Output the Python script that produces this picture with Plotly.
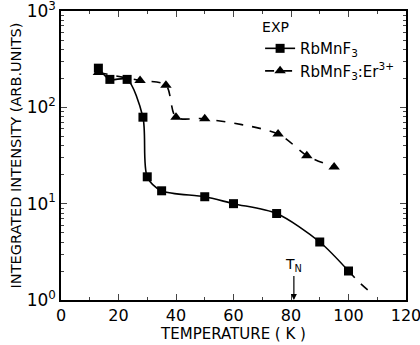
import plotly.graph_objects as go

# RbMnF3 (squares, solid)
t_rb = [13, 17, 23, 28.5, 30, 35, 50, 60, 75, 90, 100]
i_rb = [255, 195, 195, 79, 19, 13.6, 11.8, 10, 7.9, 4.0, 2.0]
# dashed extrapolation beyond last point
t_rb_ext = [100, 104, 107]
i_rb_ext = [2.0, 1.5, 1.25]
# RbMnF3:Er3+ (triangles, dashed)
t_er = [13, 27.5, 36.5, 40, 50, 75.5, 85.5, 95]
i_er = [230, 190, 170, 79, 76, 53, 31.5, 24]

x_ticks = [0, 20, 40, 60, 80, 100, 120]
x_minor = [10, 30, 50, 70, 90, 110]
y_ticks = [1, 10, 100, 1000]
y_ticktext = ["10<sup>0</sup>", "10<sup>1</sup>", "10<sup>2</sup>", "10<sup>3</sup>"]
y_minor = [m * d for d in (1, 10, 100) for m in (2, 3, 4, 5, 6, 7, 8, 9)]

FONT = "DejaVu Sans"
fig = go.Figure()
fig.add_trace(go.Scatter(x=t_rb, y=i_rb, mode="lines+markers", name="RbMnF<sub>3</sub>",
                         line=dict(color="black", width=1.6, shape="spline", smoothing=0.8),
                         marker=dict(symbol="square", size=9, color="black")))
fig.add_trace(go.Scatter(x=t_rb_ext, y=i_rb_ext, mode="lines", showlegend=False,
                         line=dict(color="black", width=1.6, dash="dash", shape="spline")))
fig.add_trace(go.Scatter(x=t_er, y=i_er, mode="lines+markers", name="RbMnF<sub>3</sub>:Er<sup>3+</sup>",
                         line=dict(color="black", width=1.6, dash="dash", shape="spline", smoothing=0.8),
                         marker=dict(symbol="triangle-up", size=10, color="black")))

fig.add_annotation(x=81, y=0, xref="x", yref="y", text="T<sub>N</sub>", showarrow=True,
                   arrowhead=2, arrowsize=1, arrowwidth=1.2, arrowcolor="black", ax=0, ay=-24,
                   font=dict(family=FONT, size=14, color="black"), yanchor="bottom")

fig.update_xaxes(range=[0, 120], tickvals=x_ticks, ticks="inside", ticklen=6, tickwidth=1,
                 showline=True, linecolor="black", linewidth=1.5, mirror="ticks",
                 showgrid=False, zeroline=False, ticklabeloverflow="allow", automargin=False,
                 minor=dict(ticks="inside", ticklen=3, tickvals=x_minor, showgrid=False),
                 tickfont=dict(family=FONT, size=16, color="black"),
                 title=dict(text="TEMPERATURE ( K )", font=dict(family=FONT, size=15, color="black"), standoff=5))
fig.update_yaxes(type="log", range=[0, 3], tickvals=y_ticks, ticktext=y_ticktext,
                 ticks="inside", ticklen=6, tickwidth=1,
                 showline=True, linecolor="black", linewidth=1.5, mirror="ticks",
                 showgrid=False, zeroline=False, ticklabeloverflow="allow", automargin=False,
                 minor=dict(ticks="inside", ticklen=3, tickvals=y_minor, showgrid=False),
                 tickfont=dict(family=FONT, size=17, color="black"),
                 title=dict(text="INTEGRATED INTENSITY (ARB.UNITS)", font=dict(family=FONT, size=14.5, color="black"), standoff=2))

fig.update_layout(width=420, height=345, margin=dict(l=61, r=14, t=11, b=45, autoexpand=False),
                  paper_bgcolor="white", plot_bgcolor="white",
                  legend=dict(x=0.98, y=0.99, xanchor="right", yanchor="top",
                              title=dict(text="EXP", font=dict(family=FONT, size=14, color="black")),
                              font=dict(family=FONT, size=15, color="black"),
                              bgcolor="rgba(0,0,0,0)", tracegroupgap=0, itemwidth=30))
fig.write_html("out.html")
